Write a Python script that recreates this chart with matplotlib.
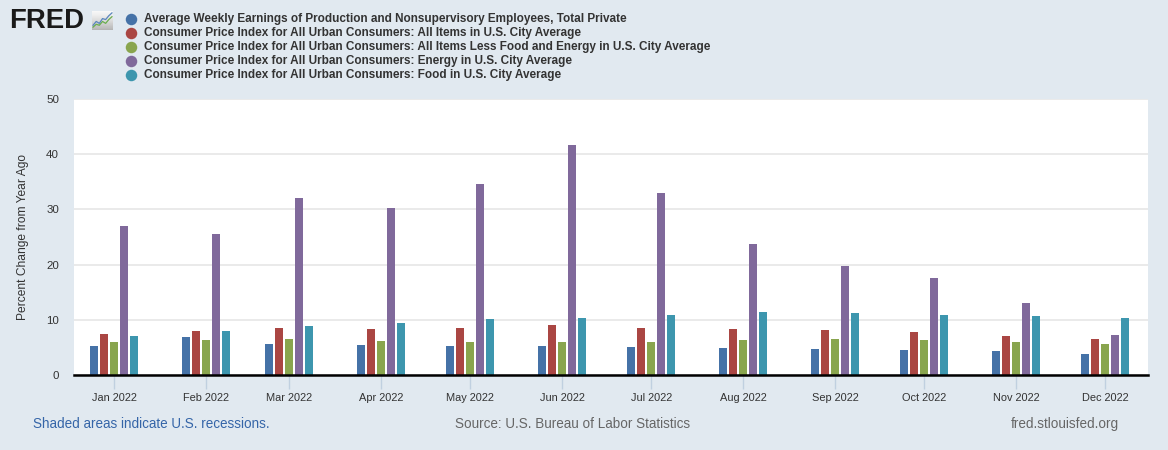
import numpy as np
import matplotlib
matplotlib.use("Agg")
import matplotlib.pyplot as plt
import matplotlib.dates as mdates
from datetime import datetime

# data (percent change from year ago, 2022)
months = ["Jan 2022", "Feb 2022", "Mar 2022", "Apr 2022", "May 2022", "Jun 2022",
          "Jul 2022", "Aug 2022", "Sep 2022", "Oct 2022", "Nov 2022", "Dec 2022"]
earnings = [5.3, 6.9, 5.6, 5.4, 5.3, 5.3, 5.1, 4.9, 4.7, 4.5, 4.4, 3.8]
cpi_all = [7.5, 7.9, 8.5, 8.3, 8.6, 9.1, 8.5, 8.3, 8.2, 7.7, 7.1, 6.5]
cpi_core = [6.0, 6.4, 6.5, 6.2, 6.0, 5.9, 5.9, 6.3, 6.6, 6.3, 6.0, 5.7]
cpi_energy = [27.0, 25.6, 32.0, 30.3, 34.6, 41.6, 32.9, 23.8, 19.8, 17.6, 13.1, 7.3]
cpi_food = [7.0, 7.9, 8.8, 9.4, 10.1, 10.4, 10.9, 11.4, 11.2, 10.9, 10.6, 10.4]

series_names = [
    "Average Weekly Earnings of Production and Nonsupervisory Employees, Total Private",
    "Consumer Price Index for All Urban Consumers: All Items in U.S. City Average",
    "Consumer Price Index for All Urban Consumers: All Items Less Food and Energy in U.S. City Average",
    "Consumer Price Index for All Urban Consumers: Energy in U.S. City Average",
    "Consumer Price Index for All Urban Consumers: Food in U.S. City Average",
]
colors = ["#4572A7", "#AA4643", "#89A54E", "#80699B", "#3D96AE"]
all_series = [earnings, cpi_all, cpi_core, cpi_energy, cpi_food]

bg = "#E1E9F0"
W, H = 1168, 450
fig = plt.figure(figsize=(W / 100, H / 100), dpi=100, facecolor=bg)

def px(n):
    return n * 72 / 100  # pixel -> points

ax = fig.add_axes([74 / W, 1 - 375 / H, (1148 - 74) / W, (375 - 99) / H])
ax.set_facecolor("white")

dates = [datetime(2022, i + 1, 1) for i in range(12)]
x = mdates.date2num(dates)
step = 3.37   # days between bars in a group
width = 2.7   # bar width in days
for k, (vals, c) in enumerate(zip(all_series, colors)):
    ax.bar(x + (k - 2) * step, vals, width=width, color=c, zorder=3)

ax.set_xlim(mdates.date2num(datetime(2021, 12, 18, 10)),
            mdates.date2num(datetime(2022, 12, 15, 10)))
ax.set_ylim(0, 50)
ax.set_yticks([0, 10, 20, 30, 40, 50])
ax.set_xticks(x)
ax.set_xticklabels(months)

ax.grid(axis="y", color="#E6E6E6", linewidth=1.2, zorder=0)
for s in ["top", "left", "right"]:
    ax.spines[s].set_visible(False)
ax.spines["bottom"].set_color("black")
ax.spines["bottom"].set_linewidth(px(2.5))
ax.spines["bottom"].set_zorder(4)

ax.tick_params(axis="x", direction="out", length=10, width=1, color="#C0D0E0",
               labelsize=px(11), labelcolor="#333333", pad=3)
ax.tick_params(axis="y", length=0, labelsize=px(11.5), labelcolor="#333333", pad=px(15))
for lab in ax.get_xticklabels() + ax.get_yticklabels():
    lab.set_family("Liberation Sans")

ax.set_ylabel("Percent Change from Year Ago", fontsize=px(12), color="#333333",
              family="Liberation Sans", labelpad=px(17))

# overlay in pixel coordinates for the legend dots
over = fig.add_axes([0, 0, 1, 1], facecolor="none")
over.set_xlim(0, W)
over.set_ylim(H, 0)
over.axis("off")

# legend
for i, (name, c) in enumerate(zip(series_names, colors)):
    yy = 18.7 + i * 14.15
    over.scatter([130.5], [yy], s=px(11.5) ** 2, color=c, linewidths=0)
    fig.text(144 / W, 1 - yy / H, name, color="#333333", fontsize=px(11.7), fontweight="bold",
             ha="left", va="center", family=["Liberation Sans Narrow", "Liberation Sans"])

# logo
fig.text(9 / W, 1 - 20.5 / H, "FRED", fontsize=px(27.5), fontweight="bold", color="#1a1a1a",
         ha="left", va="center", family="Liberation Sans")
icon = fig.add_axes([92 / W, 1 - 30 / H, 21 / W, 19 / H])
icon.imshow(np.linspace(0.05, 0.4, 20).reshape(-1, 1), cmap="Greys", vmin=0, vmax=1,
            extent=[0, 10, 0, 10], aspect="auto")
icon.plot([0.5, 2, 3.5, 5, 6.5, 8, 9.5], [1.5, 3, 2.5, 4.5, 3.5, 5.5, 7], color="#6AAE4E", lw=0.9)
icon.plot([0.5, 2, 3.5, 5, 6.5, 8, 9.5], [2.5, 4.5, 3.5, 6, 5.5, 7.5, 9], color="#5A86BE", lw=0.9)
icon.set_xlim(0, 10)
icon.set_ylim(0, 10)
icon.set_xticks([])
icon.set_yticks([])
for s in icon.spines.values():
    s.set_visible(False)

# footer
fig.text(33 / W, 1 - 424 / H, "Shaded areas indicate U.S. recessions.", color="#3565A8",
         fontsize=px(13.5), ha="left", va="center", family="Liberation Sans")
fig.text(455 / W, 1 - 424 / H, "Source: U.S. Bureau of Labor Statistics", color="#666666",
         fontsize=px(13.5), ha="left", va="center", family="Liberation Sans")
fig.text(1119 / W, 1 - 424 / H, "fred.stlouisfed.org", color="#666666",
         fontsize=px(13.5), ha="right", va="center", family="Liberation Sans")

fig.savefig("out.png", dpi=100, facecolor=bg)
